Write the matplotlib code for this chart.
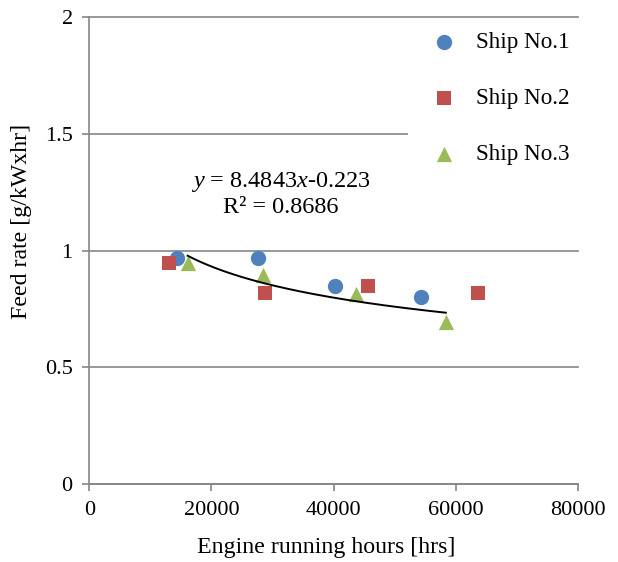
import matplotlib
matplotlib.use("Agg")
import matplotlib.pyplot as plt
from matplotlib.patches import Rectangle
import numpy as np

plt.rcParams["font.family"] = ["Liberation Serif", "DejaVu Serif"]
plt.rcParams["mathtext.fontset"] = "custom"
plt.rcParams["mathtext.rm"] = "Liberation Serif"
plt.rcParams["mathtext.it"] = "Liberation Serif:italic"

# Data
ship1_hours = [14300, 27600, 40300, 54300]
ship1_rate = [0.967, 0.967, 0.85, 0.80]
ship2_hours = [13100, 28800, 45700, 63700]
ship2_rate = [0.945, 0.82, 0.85, 0.817]
ship3_hours = [16100, 28400, 43700, 58400]
ship3_rate = [0.946, 0.895, 0.814, 0.696]

# power trendline y = a * x^b (fitted on Ship No.3)
fit_a = 8.4843
fit_b = -0.223

blue = "#4F81BD"
red = "#C0504D"
green = "#9BBB59"
gray = "#868686"

fig = plt.figure(figsize=(6.18, 5.62), dpi=100)
ax = fig.add_axes([0.1445, 0.1388, 0.7903, 0.8304])

ax.scatter(ship1_hours, ship1_rate, marker="o", s=11**2, color=blue,
           linewidths=0, zorder=3, label="Ship No.1")
ax.scatter(ship2_hours, ship2_rate, marker="s", s=10.5**2, color=red,
           linewidths=0, zorder=3, label="Ship No.2")
ax.scatter(ship3_hours, ship3_rate, marker="^", s=11**2, color=green,
           linewidths=0, zorder=3, label="Ship No.3")

fx = np.linspace(min(ship3_hours), max(ship3_hours), 200)
ax.plot(fx, fit_a * fx ** fit_b, color="black", linewidth=1.4, zorder=4)

ax.text(31300, 1.294, "$y$ = 8.4843$x$-0.223", ha="center", va="center",
        fontsize=17.5, zorder=5)
ax.text(31300, 1.187, "R² = 0.8686", ha="center", va="center",
        fontsize=17.5, zorder=5)

ax.set_xlim(0, 80000)
ax.set_ylim(0, 2)
ax.set_xticks([0, 20000, 40000, 60000, 80000])
ax.set_yticks([0, 0.5, 1, 1.5, 2])
ax.set_yticklabels(["0", "0.5", "1", "1.5", "2"])
ax.tick_params(axis="both", labelsize=16, color=gray, length=5, width=1.2,
               direction="out", pad=7)

ax.yaxis.grid(True, color=gray, linewidth=1.2, zorder=0)
for gl in ax.yaxis.get_gridlines():
    gl.set_clip_on(False)
ax.set_axisbelow(True)
for side in ["top", "right"]:
    ax.spines[side].set_visible(False)
for side in ["left", "bottom"]:
    ax.spines[side].set_color(gray)
    ax.spines[side].set_linewidth(1.2)

ax.set_xlabel("Engine running hours [hrs]", fontsize=17.2, va="center")
ax.set_ylabel("Feed rate [g/kWxhr]", fontsize=17.2, va="center")
ax.xaxis.set_label_coords(0.485, -0.137)
ax.yaxis.set_label_coords(-0.139, 0.5635)

# white legend area covering the gridline
ax.add_patch(Rectangle((0.653, 0.53), 0.36, 0.45, transform=ax.transAxes,
                       facecolor="white", edgecolor="none", zorder=1.5,
                       clip_on=False))
ax.legend(loc="upper left", bbox_to_anchor=(0.678, 0.988), frameon=False,
          fontsize=16.7, labelspacing=1.5, handletextpad=0.8,
          handlelength=1.2, borderaxespad=0)

fig.savefig("out.png", dpi=100)
